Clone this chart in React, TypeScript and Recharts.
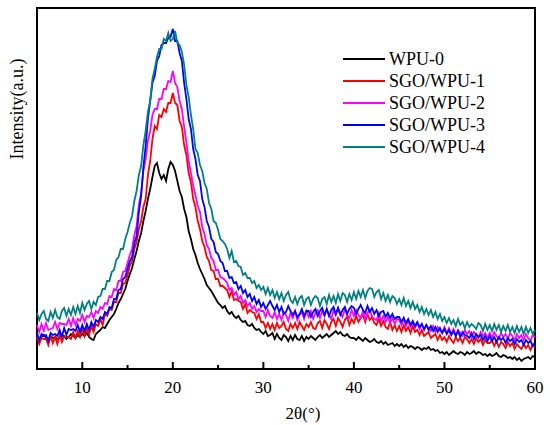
import { Legend, Line, LineChart, ReferenceArea, XAxis, YAxis } from 'recharts';

const FONT = '"Liberation Serif", "Times New Roman", Times, serif';

// 2θ positions, 0.25° apart (one row = 5°)
const twoTheta = [
  5, 5.25, 5.5, 5.75, 6, 6.25, 6.5, 6.75, 7, 7.25, 7.5, 7.75, 8, 8.25, 8.5, 8.75, 9, 9.25, 9.5, 9.75,
  10, 10.25, 10.5, 10.75, 11, 11.25, 11.5, 11.75, 12, 12.25, 12.5, 12.75, 13, 13.25, 13.5, 13.75, 14, 14.25, 14.5, 14.75,
  15, 15.25, 15.5, 15.75, 16, 16.25, 16.5, 16.75, 17, 17.25, 17.5, 17.75, 18, 18.25, 18.5, 18.75, 19, 19.25, 19.5, 19.75,
  20, 20.25, 20.5, 20.75, 21, 21.25, 21.5, 21.75, 22, 22.25, 22.5, 22.75, 23, 23.25, 23.5, 23.75, 24, 24.25, 24.5, 24.75,
  25, 25.25, 25.5, 25.75, 26, 26.25, 26.5, 26.75, 27, 27.25, 27.5, 27.75, 28, 28.25, 28.5, 28.75, 29, 29.25, 29.5, 29.75,
  30, 30.25, 30.5, 30.75, 31, 31.25, 31.5, 31.75, 32, 32.25, 32.5, 32.75, 33, 33.25, 33.5, 33.75, 34, 34.25, 34.5, 34.75,
  35, 35.25, 35.5, 35.75, 36, 36.25, 36.5, 36.75, 37, 37.25, 37.5, 37.75, 38, 38.25, 38.5, 38.75, 39, 39.25, 39.5, 39.75,
  40, 40.25, 40.5, 40.75, 41, 41.25, 41.5, 41.75, 42, 42.25, 42.5, 42.75, 43, 43.25, 43.5, 43.75, 44, 44.25, 44.5, 44.75,
  45, 45.25, 45.5, 45.75, 46, 46.25, 46.5, 46.75, 47, 47.25, 47.5, 47.75, 48, 48.25, 48.5, 48.75, 49, 49.25, 49.5, 49.75,
  50, 50.25, 50.5, 50.75, 51, 51.25, 51.5, 51.75, 52, 52.25, 52.5, 52.75, 53, 53.25, 53.5, 53.75, 54, 54.25, 54.5, 54.75,
  55, 55.25, 55.5, 55.75, 56, 56.25, 56.5, 56.75, 57, 57.25, 57.5, 57.75, 58, 58.25, 58.5, 58.75, 59, 59.25, 59.5, 59.75,
  60,
];

const wpu0 = [
  33, 30, 32, 34, 31, 29, 33, 31, 32, 30, 31, 34, 33, 30, 32, 35, 33, 31, 34, 32,
  35, 33, 36, 32, 30, 29, 35, 37, 39, 42, 41, 45, 49, 52, 55, 60, 66, 70, 75, 80,
  88, 95, 101, 110, 118, 128, 136, 148, 158, 170, 180, 192, 203, 206, 196, 190, 194, 188, 200, 207,
  204, 198, 188, 178, 172, 160, 152, 138, 130, 120, 114, 106, 100, 95, 90, 84, 81, 78, 74, 70,
  66, 64, 61, 63, 58, 55, 57, 53, 51, 53, 49, 47, 48, 44, 43, 45, 41, 39, 40, 37,
  35, 38, 33, 34, 36, 30, 35, 31, 29, 34, 32, 28, 33, 29, 34, 30, 29, 33, 28, 32,
  30, 33, 31, 29, 32, 34, 31, 33, 35, 32, 34, 36, 38, 35, 37, 34, 33, 35, 32, 31,
  31, 29, 32, 30, 28, 31, 29, 27, 28, 30, 27, 26, 28, 25, 27, 24, 25, 26, 23, 25,
  23, 25, 22, 24, 21, 23, 22, 20, 22, 21, 19, 21, 20, 22, 19, 20, 18, 19, 16, 17,
  15, 17, 14, 16, 18, 16, 15, 17, 16, 14, 17, 15, 16, 18, 15, 17, 16, 14, 15, 13,
  15, 13, 14, 16, 13, 12, 14, 13, 11, 12, 10, 12, 9, 11, 8, 10, 11, 12, 10, 13,
  12,
];

const sgoWpu1 = [
  32, 25, 31, 30, 30, 24, 33, 26, 32, 25, 34, 27, 33, 32, 32, 30, 37, 31, 38, 32,
  40, 33, 41, 34, 43, 37, 45, 43, 50, 44, 55, 53, 60, 59, 67, 67, 76, 76, 85, 86,
  94, 103, 108, 120, 127, 140, 148, 162, 170, 194, 208, 230, 243, 240, 254, 252, 260, 257, 266, 266,
  276, 266, 264, 248, 242, 224, 214, 196, 187, 170, 162, 148, 140, 128, 122, 112, 108, 99, 98, 90,
  90, 83, 83, 81, 79, 72, 78, 69, 70, 68, 67, 60, 65, 56, 59, 57, 56, 50, 55, 47,
  47, 41, 46, 40, 45, 39, 46, 41, 43, 47, 40, 38, 45, 41, 46, 40, 47, 43, 39, 45,
  42, 47, 41, 40, 46, 48, 41, 49, 45, 40, 47, 50, 43, 51, 47, 42, 49, 52, 44, 50,
  46, 53, 47, 51, 54, 47, 55, 49, 52, 46, 44, 50, 43, 48, 42, 40, 47, 39, 44, 38,
  43, 37, 44, 38, 42, 36, 43, 37, 39, 34, 39, 33, 35, 37, 31, 33, 35, 29, 34, 29,
  32, 27, 33, 29, 26, 32, 28, 31, 26, 32, 30, 26, 30, 25, 31, 27, 30, 24, 29, 26,
  26, 29, 23, 28, 22, 27, 25, 21, 27, 23, 26, 20, 25, 22, 20, 25, 21, 24, 19, 24,
  22,
];

const sgoWpu2 = [
  44, 37, 45, 38, 46, 39, 40, 41, 47, 40, 46, 45, 45, 44, 50, 43, 51, 44, 50, 48,
  54, 47, 53, 52, 57, 51, 58, 56, 62, 60, 66, 65, 73, 72, 80, 79, 88, 88, 97, 98,
  106, 114, 120, 134, 143, 164, 176, 198, 210, 228, 238, 254, 260, 260, 270, 270, 280, 280, 288, 287,
  298, 286, 282, 268, 260, 242, 227, 208, 196, 183, 174, 163, 157, 142, 135, 124, 120, 111, 108, 99,
  99, 92, 91, 89, 86, 79, 81, 74, 77, 70, 73, 66, 69, 63, 66, 60, 63, 57, 60, 58,
  58, 52, 59, 53, 51, 57, 50, 55, 49, 57, 54, 48, 56, 51, 58, 49, 54, 57, 50, 58,
  52, 58, 50, 56, 59, 51, 58, 53, 60, 54, 50, 59, 54, 61, 56, 52, 60, 54, 51, 59,
  53, 59, 54, 51, 58, 50, 56, 59, 53, 50, 49, 56, 48, 53, 47, 52, 46, 51, 45, 50,
  49, 44, 51, 43, 48, 42, 47, 41, 46, 40, 45, 39, 44, 41, 38, 43, 37, 42, 39, 36,
  42, 36, 41, 35, 40, 34, 39, 36, 33, 39, 35, 38, 32, 37, 34, 31, 37, 33, 36, 31,
  36, 31, 37, 33, 30, 36, 32, 35, 30, 36, 33, 29, 35, 31, 34, 29, 35, 31, 28, 34,
  32,
];

const sgoWpu3 = [
  36, 29, 35, 33, 34, 28, 36, 34, 35, 33, 39, 32, 41, 34, 40, 39, 40, 38, 44, 37,
  44, 38, 45, 39, 47, 42, 49, 47, 52, 50, 57, 55, 62, 61, 70, 70, 79, 80, 90, 92,
  100, 108, 112, 126, 133, 157, 173, 202, 223, 250, 268, 286, 293, 308, 313, 324, 326, 326, 331, 332,
  340, 328, 328, 316, 308, 286, 270, 250, 240, 220, 210, 194, 188, 170, 162, 148, 142, 130, 127, 117,
  115, 108, 106, 98, 98, 91, 92, 86, 87, 80, 83, 76, 79, 72, 75, 68, 72, 65, 69, 62,
  66, 60, 64, 68, 63, 59, 64, 57, 62, 55, 57, 63, 58, 54, 58, 52, 55, 60, 53, 58,
  58, 52, 57, 60, 53, 58, 61, 54, 60, 53, 59, 62, 55, 61, 54, 59, 62, 55, 60, 63,
  61, 55, 60, 64, 59, 56, 63, 57, 61, 55, 59, 53, 57, 58, 52, 56, 51, 55, 50, 52,
  52, 47, 51, 46, 50, 44, 48, 43, 47, 42, 45, 40, 44, 39, 43, 38, 42, 37, 41, 36,
  40, 35, 39, 34, 38, 33, 38, 32, 37, 34, 33, 31, 36, 30, 35, 32, 34, 29, 33, 28,
  33, 28, 32, 27, 32, 29, 31, 26, 31, 28, 30, 25, 30, 27, 29, 24, 29, 26, 28, 23,
  27,
];

const sgoWpu4 = [
  56, 49, 55, 58, 50, 48, 57, 51, 59, 52, 50, 58, 61, 53, 60, 54, 62, 55, 63, 56,
  66, 59, 65, 68, 60, 67, 64, 72, 73, 80, 80, 88, 88, 97, 99, 109, 112, 120, 120, 130,
  137, 146, 153, 168, 178, 194, 203, 224, 238, 257, 268, 290, 300, 312, 320, 320, 330, 328, 336, 328,
  330, 338, 326, 324, 317, 304, 284, 272, 254, 240, 220, 216, 204, 198, 186, 180, 166, 160, 148, 146,
  139, 130, 128, 125, 120, 111, 118, 107, 108, 103, 102, 94, 96, 91, 91, 86, 88, 81, 84, 79,
  82, 75, 81, 74, 79, 71, 77, 70, 76, 68, 74, 77, 69, 66, 72, 65, 71, 73, 64, 70,
  72, 64, 70, 73, 71, 63, 70, 72, 65, 74, 67, 73, 66, 75, 68, 76, 74, 67, 75, 69,
  77, 70, 78, 72, 79, 71, 78, 81, 80, 72, 77, 79, 70, 76, 68, 74, 67, 73, 71, 65,
  70, 64, 71, 63, 68, 61, 67, 60, 64, 57, 62, 55, 60, 54, 59, 52, 57, 50, 55, 48,
  52, 46, 51, 45, 49, 43, 50, 44, 47, 41, 47, 42, 45, 43, 40, 46, 44, 38, 45, 39,
  44, 38, 45, 39, 44, 37, 43, 38, 44, 37, 42, 36, 43, 37, 42, 35, 42, 36, 41, 35,
  39,
];

const xTicks = [10, 15, 20, 25, 30, 35, 40, 45, 50, 55, 60];

const data = twoTheta.map((x, i) => ({
  x,
  wpu0: wpu0[i],
  sgo1: sgoWpu1[i],
  sgo2: sgoWpu2[i],
  sgo3: sgoWpu3[i],
  sgo4: sgoWpu4[i],
}));

const series = [
  { key: 'wpu0', name: 'WPU-0', color: '#000000' },
  { key: 'sgo1', name: 'SGO/WPU-1', color: '#ff0000' },
  { key: 'sgo2', name: 'SGO/WPU-2', color: '#ff00ff' },
  { key: 'sgo3', name: 'SGO/WPU-3', color: '#0000ff' },
  { key: 'sgo4', name: 'SGO/WPU-4', color: '#008080' },
];

// ticks point into the plot, labels only every 10°
const AxisTick = ({ x, y, payload }: any) => {
  const major = payload.value % 10 === 0;
  return (
    <g>
      <line x1={x} x2={x} y1={y} y2={y - (major ? 7 : 4)} stroke="#000" strokeWidth={2} />
      {major && (
        <text x={x} y={y + 24} textAnchor="middle" fontSize={17} fontFamily={FONT} fill="#000">
          {payload.value}
        </text>
      )}
    </g>
  );
};

// axis titles, both drawn from the x axis label slot
const AxisTitles = (props: any) => {
  const vb = props.viewBox || {};
  return (
    <g>
      <text
        x={vb.x + vb.width / 2 + 17}
        y={vb.y + 50}
        textAnchor="middle"
        fontSize={17}
        fontFamily={FONT}
        fill="#000"
      >
        2θ(°)
      </text>
      <text
        x={23}
        y={109}
        transform="rotate(-90, 23, 109)"
        textAnchor="middle"
        fontSize={18}
        fontFamily={FONT}
        fill="#000"
      >
        Intensity(a.u.)
      </text>
    </g>
  );
};

const renderLegend = () => (
  <div style={{ fontFamily: FONT, fontSize: 18, color: '#000' }}>
    {series.map((s) => (
      <div key={s.key} style={{ display: 'flex', alignItems: 'center', height: 22 }}>
        <svg width={42} height={4} style={{ display: 'block' }}>
          <line x1={0} x2={42} y1={2} y2={2} stroke={s.color} strokeWidth={2} />
        </svg>
        <span style={{ marginLeft: 4, lineHeight: '22px' }}>{s.name}</span>
      </div>
    ))}
  </div>
);

export default function App() {
  return (
    <div style={{ position: 'absolute', left: 0, top: 0, background: '#fff' }}>
      <LineChart
        width={550}
        height={425}
        data={data}
        margin={{ top: 8, right: 15, left: 37, bottom: 26 }}
      >
        <XAxis
          dataKey="x"
          type="number"
          domain={[5, 60]}
          ticks={xTicks}
          axisLine={false}
          tickLine={false}
          tickSize={0}
          tickMargin={0}
          tick={<AxisTick />}
          height={30}
          label={AxisTitles}
        />
        <YAxis
          type="number"
          domain={[0, 361]}
          width={0}
          tick={false}
          axisLine={false}
          tickLine={false}
        />
        {series.map((s) => (
          <Line
            key={s.key}
            dataKey={s.key}
            name={s.name}
            stroke={s.color}
            strokeWidth={1.8}
            dot={false}
            type="linear"
            isAnimationActive={false}
          />
        ))}
        <ReferenceArea x1={5} x2={60} y1={0} y2={361} fill="none" stroke="#000" strokeWidth={2} />
        <Legend
          layout="vertical"
          align="center"
          verticalAlign="middle"
          content={renderLegend}
          wrapperStyle={{ top: 48, left: 343, width: 'auto', height: 'auto' }}
        />
      </LineChart>
    </div>
  );
}
